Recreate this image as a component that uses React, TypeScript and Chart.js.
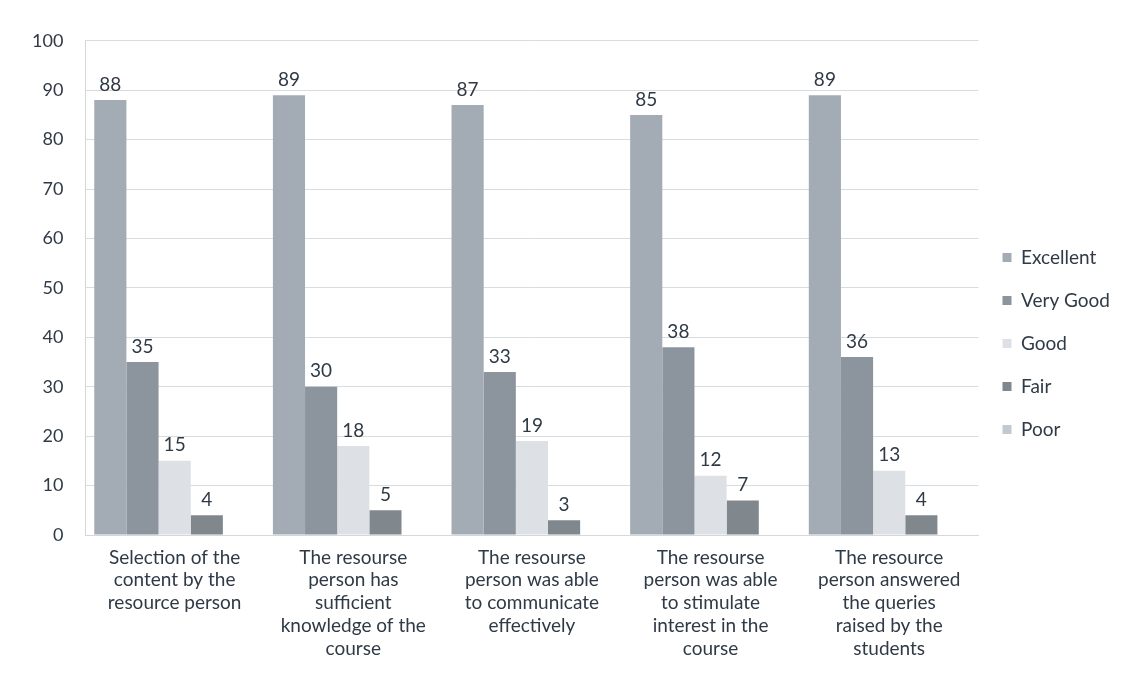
import React, { useEffect, useRef } from "react";
import { Chart, registerables } from "chart.js";

Chart.register(...registerables);

const categories: string[][] = [
  ["Selection of the", "content by the", "resource person"],
  ["The resourse", "person has", "sufficient", "knowledge of the", "course"],
  ["The resourse", "person was able", "to communicate", "effectively"],
  ["The resourse", "person was able", "to stimulate", "interest in the", "course"],
  ["The resource", "person answered", "the queries", "raised by the", "students"],
];

const seriesNames = ["Excellent", "Very Good", "Good", "Fair", "Poor"];
const excellent = [88, 89, 87, 85, 89];
const veryGood = [35, 30, 33, 38, 36];
const good = [15, 18, 19, 12, 13];
const fair = [4, 5, 3, 7, 4];
const poor = [0, 0, 0, 0, 0];
const seriesColors = ["#a3abb4", "#8c949e", "#dde1e5", "#80878d", "#c3c9ce"];

const yTicksMax = 100;
const yTicksStep = 10;

const FONT = "Lato, 'Open Sans', sans-serif";
const TEXT = "#2f3a46";

// Draws each bar's value just above it (zero values are left unlabeled).
const valueLabels = {
  id: "valueLabels",
  afterDatasetsDraw(chart: any) {
    const ctx = chart.ctx;
    ctx.save();
    ctx.font = `19px ${FONT}`;
    ctx.fillStyle = TEXT;
    ctx.textAlign = "center";
    ctx.textBaseline = "bottom";
    chart.data.datasets.forEach((ds: any, i: number) => {
      const meta = chart.getDatasetMeta(i);
      meta.data.forEach((bar: any, j: number) => {
        const v = ds.data[j];
        if (!v) return;
        ctx.fillText(String(v), bar.x, bar.y - 6);
      });
    });
    ctx.restore();
  },
};

export default function App() {
  const ref = useRef<HTMLCanvasElement | null>(null);

  useEffect(() => {
    if (!ref.current) return;
    const values = [excellent, veryGood, good, fair, poor];
    const chart = new Chart(ref.current, {
      type: "bar",
      data: {
        labels: categories,
        datasets: seriesNames.map((name, i) => ({
          label: name,
          data: values[i],
          backgroundColor: seriesColors[i],
          borderWidth: 0,
          categoryPercentage: 0.9,
          barPercentage: 1,
        })),
      },
      options: {
        animation: false,
        responsive: true,
        maintainAspectRatio: false,
        layout: { padding: { top: 16, right: 6, left: 2, bottom: 4 } },
        plugins: {
          legend: {
            position: "right",
            labels: {
              boxWidth: 9,
              boxHeight: 9,
              padding: 24,
              color: TEXT,
              font: { family: FONT, size: 19 },
            },
          },
          tooltip: { enabled: false },
        },
        scales: {
          x: {
            grid: { display: false },
            border: { color: "#d4d8dc" },
            ticks: {
              color: TEXT,
              font: { family: FONT, size: 19 },
              maxRotation: 0,
              autoSkip: false,
            },
          },
          y: {
            min: 0,
            max: yTicksMax,
            ticks: {
              stepSize: yTicksStep,
              color: TEXT,
              padding: 22,
              font: { family: FONT, size: 18 },
            },
            grid: { color: "#d8dcdf", drawTicks: false },
            border: { display: true, color: "#d4d8dc" },
          },
        },
      },
      plugins: [valueLabels],
    });
    return () => chart.destroy();
  }, []);

  return (
    <div style={{ width: 1118, height: 659, background: "#ffffff" }}>
      <canvas ref={ref} />
    </div>
  );
}
